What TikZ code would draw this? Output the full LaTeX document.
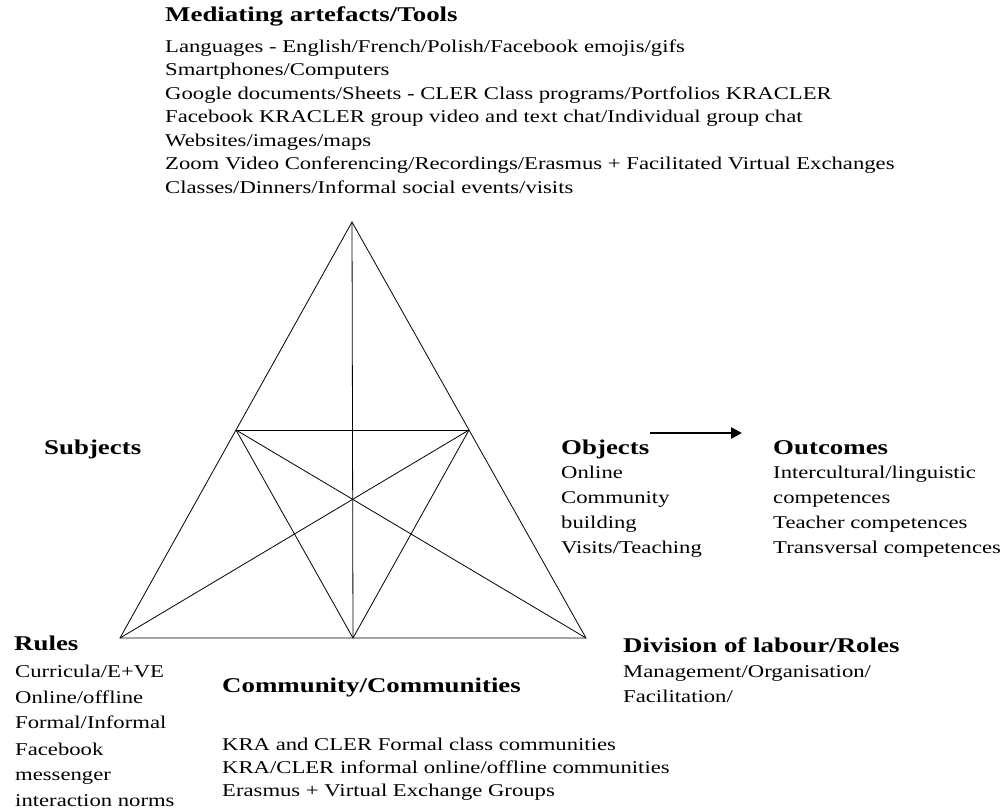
\documentclass[tikz,border=0pt]{standalone}
\usepackage{fontspec}
\setmainfont{Liberation Serif}[FakeStretch=1.26, BoldFeatures={FakeStretch=1.28}]
\usetikzlibrary{arrows.meta}
\begin{document}
\begin{tikzpicture}[x=1pt,y=-1pt,
  txt/.style={anchor=base west, inner sep=0pt, font=\fontsize{18}{22}\selectfont},
  head/.style={anchor=base west, inner sep=0pt, font=\fontsize{21}{25}\selectfont\bfseries},
  edge/.style={draw=black, line width=0.8pt},
  flow/.style={draw=black, line width=2.4pt, -{Triangle[length=11pt,width=11pt]}}]
\useasboundingbox (0,0) rectangle (1008,810);
% triangle
\coordinate (A) at (352,222);
\coordinate (BL) at (120,638);
\coordinate (BR) at (586,638);
\coordinate (ML) at (236,430);
\coordinate (MR) at (469,430);
\coordinate (BM) at (353,638);
\draw[edge] (A) -- (BL) -- (BR) -- cycle;
\draw[edge] (ML) -- (MR);
\draw[edge] (A) -- (BM);
\draw[edge] (ML) -- (BM);
\draw[edge] (MR) -- (BM);
\draw[edge] (ML) -- (BR);
\draw[edge] (MR) -- (BL);
% tools
\node[head] (tools) at (165,22) {Mediating artefacts/Tools};
\node[txt] (t1) at (165,53) {Languages - English/French/Polish/Facebook emojis/gifs};
\node[txt] (t2) at (165,76) {Smartphones/Computers};
\node[txt] (t3) at (165,100) {Google documents/Sheets - CLER Class programs/Portfolios KRACLER};
\node[txt] (t4) at (165,123) {Facebook KRACLER group video and text chat/Individual group chat};
\node[txt] (t5) at (165,147) {Websites/images/maps};
\node[txt] (t6) at (165,170) {Zoom Video Conferencing/Recordings/Erasmus + Facilitated Virtual Exchanges};
\node[txt] (t7) at (165,194) {Classes/Dinners/Informal social events/visits};
% subjects
\node[head] (subj) at (44,454) {Subjects};
% objects
\node[head] (obj) at (561,454) {Objects};
\node[txt] (o1) at (561,478) {Online};
\node[txt] (o2) at (561,503) {Community};
\node[txt] (o3) at (561,528) {building};
\node[txt] (o4) at (561,553) {Visits/Teaching};
% outcomes
\node[head] (out) at (773,454) {Outcomes};
\node[txt] (u1) at (773,478) {Intercultural/linguistic};
\node[txt] (u2) at (773,503) {competences};
\node[txt] (u3) at (773,528) {Teacher competences};
\node[txt] (u4) at (773,553) {Transversal competences};
\coordinate (arS) at (650,433);
\coordinate (arE) at (742,433);
\draw[flow] (arS) -- (arE);
% rules
\node[head] (rules) at (14,650) {Rules};
\node[txt] (r1) at (15,677) {Curricula/E+VE};
\node[txt] (r2) at (15,703) {Online/offline};
\node[txt] (r3) at (15,728) {Formal/Informal};
\node[txt] (r4) at (15,755) {Facebook};
\node[txt] (r5) at (15,780) {messenger};
\node[txt] (r6) at (15,806) {interaction norms};
% community
\node[head] (comm) at (222,692) {Community/Communities};
\node[txt] (c1) at (222,750) {KRA and CLER Formal class communities};
\node[txt] (c2) at (222,773) {KRA/CLER informal online/offline communities};
\node[txt] (c3) at (222,796) {Erasmus + Virtual Exchange Groups};
% division
\node[head] (div) at (623,652) {Division of labour/Roles};
\node[txt] (d1) at (623,677) {Management/Organisation/};
\node[txt] (d2) at (623,702) {Facilitation/};
\end{tikzpicture}
\end{document}
